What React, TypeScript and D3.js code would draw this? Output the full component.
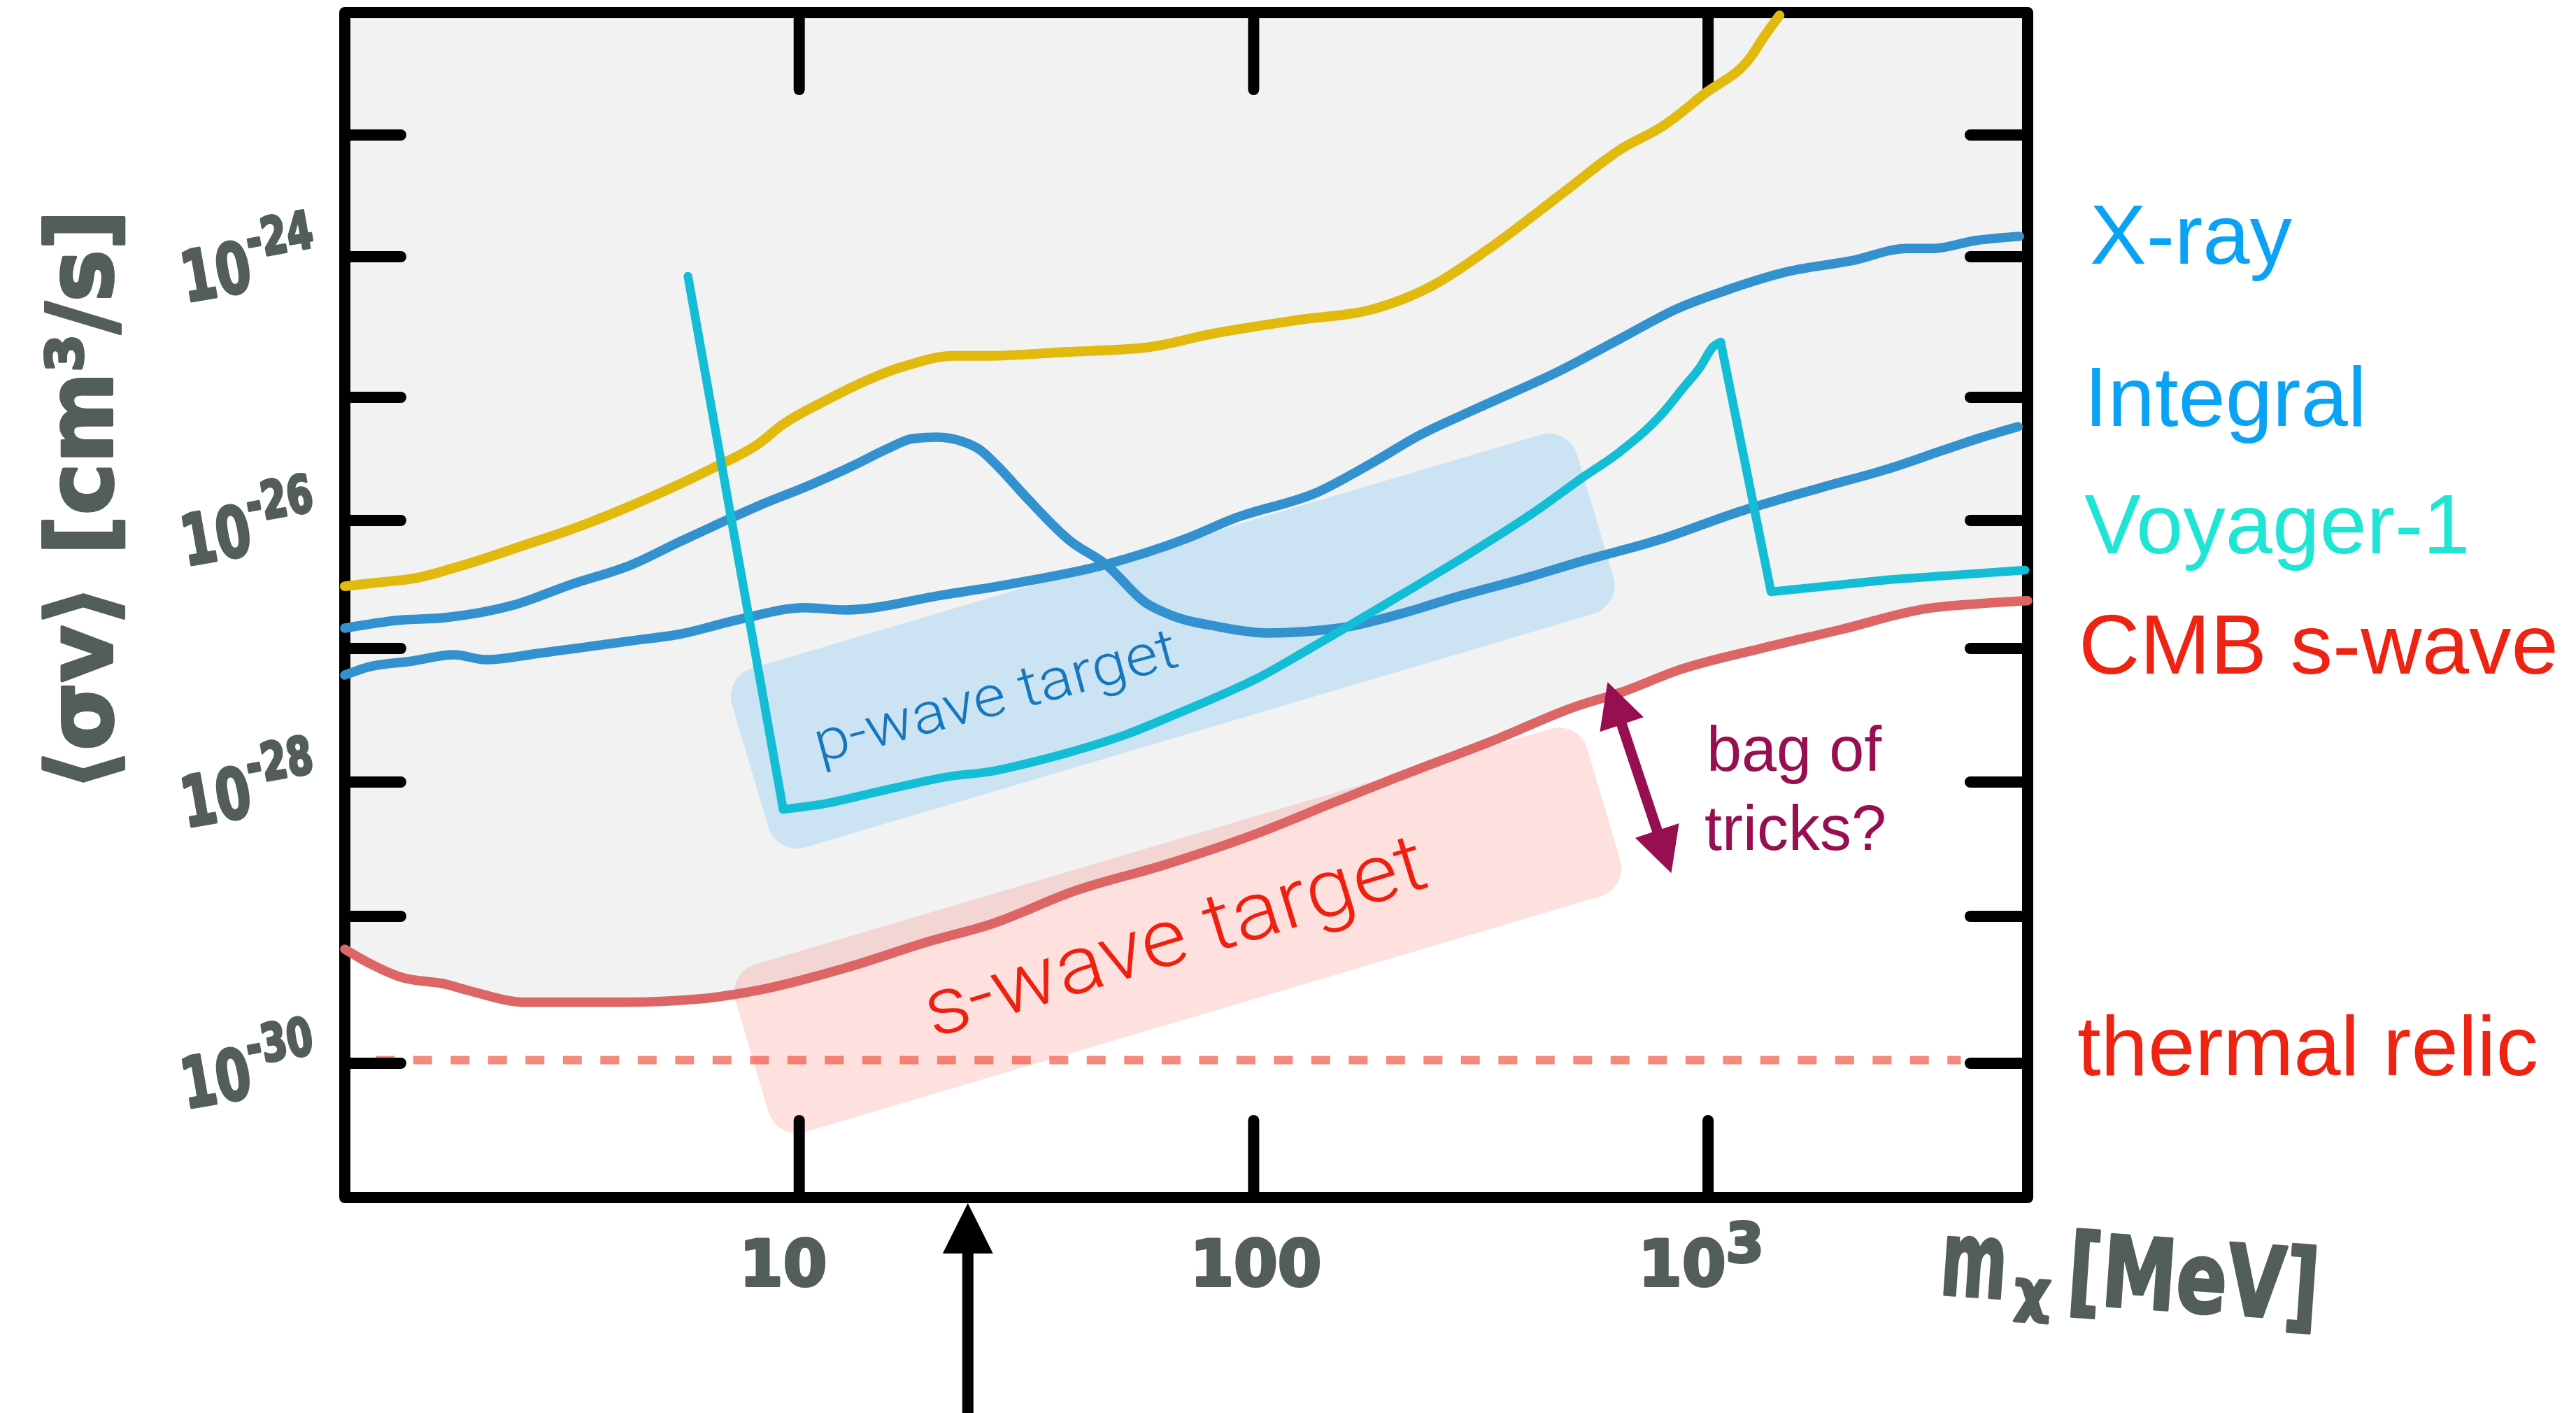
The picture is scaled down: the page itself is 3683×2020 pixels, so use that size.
import React from "react";
import * as d3 from "d3";

const WIDTH = 3683;
const HEIGHT = 2020;

// ---- axes: dark-matter mass m_chi (MeV) vs annihilation cross section <sigma v> (cm^3/s) ----
const massTicks = [10, 100, 1000];
const massTickText = ["10", "100", "10"];
const massTickSup = ["", "", "3"];
const sigmaTicks = [1e-23, 1e-24, 1e-25, 1e-26, 1e-27, 1e-28, 1e-29, 1e-30];
const sigmaLabelValues = [1e-24, 1e-26, 1e-28, 1e-30];
const sigmaLabelExps = ["-24", "-26", "-28", "-30"];

// ---- upper limits ----
const yellowMass = [1, 1.18, 1.42, 1.8, 2.47, 3.3, 4.29, 6.37, 8.2, 9.15, 11.4, 17.1, 21.8, 25.7, 38.6, 58, 81.5, 123, 188, 248, 327, 483, 640, 800, 982, 1246, 1323, 1436];
const yellowSigma = [3.06e-27, 3.27e-27, 3.52e-27, 4.41e-27, 6.36e-27, 9.04e-27, 1.33e-26, 2.6e-26, 4.28e-26, 5.93e-26, 9.37e-26, 1.67e-25, 1.97e-25, 1.97e-25, 2.1e-25, 2.26e-25, 2.84e-25, 3.52e-25, 4.34e-25, 6.25e-25, 1.14e-24, 3.42e-24, 7.57e-24, 1.2e-23, 2.18e-23, 4.46e-23, 6.29e-23, 9.6e-23];

const xrayMass = [1, 1.12, 1.41, 1.74, 2.04, 2.67, 4.29, 5.44, 7.45, 10.3, 12.6, 21, 28.5, 47.3, 71, 90.7, 139, 182, 232, 315, 473, 642, 865, 1096, 1503, 2061, 2747, 3121, 3888, 4843];
const xraySigma = [6.32e-28, 7.22e-28, 8.05e-28, 8.97e-28, 8.24e-28, 9.19e-28, 1.15e-27, 1.29e-27, 1.7e-27, 2.08e-27, 2.0e-27, 2.64e-27, 3.14e-27, 4.53e-27, 7.21e-27, 1.04e-26, 1.71e-26, 2.92e-26, 4.93e-26, 8.33e-26, 1.55e-25, 2.62e-25, 4.34e-25, 5.77e-25, 7.86e-25, 9.34e-25, 1.17e-24, 1.17e-24, 1.36e-24, 1.47e-24];

const integralMass = [1, 1.31, 1.66, 2.35, 3.13, 4.29, 5.44, 6.89, 8.08, 10.6, 13.1, 15.7, 17.8, 20.1, 22.8, 25.1, 27.3, 31.5, 39.4, 47.3, 58, 65.5, 83.6, 107, 154, 209, 284, 385, 523, 786, 1181, 1776, 2496, 3315, 4013, 4808];
const integralSigma = [1.44e-27, 1.66e-27, 1.74e-27, 2.18e-27, 3.14e-27, 4.53e-27, 6.78e-27, 1.0e-26, 1.3e-26, 1.95e-26, 2.77e-26, 3.85e-26, 4.62e-26, 4.74e-26, 4.39e-26, 3.7e-26, 2.77e-26, 1.56e-26, 6.95e-27, 4.53e-27, 2.26e-27, 1.83e-27, 1.48e-27, 1.32e-27, 1.44e-27, 1.85e-27, 2.57e-27, 3.44e-27, 4.76e-27, 7.12e-27, 1.19e-26, 1.85e-26, 2.63e-26, 3.75e-26, 4.74e-26, 5.77e-26];

const voyagerMass = [5.69, 9.22, 11.4, 13.95, 17.1, 21, 26.8, 31.5, 38.6, 52.4, 66.9, 87.2, 103, 123, 154, 209, 284, 427, 523, 642, 786, 886, 961, 1025, 1066, 1376, 2496, 4983];
const voyagerSigma = [7.26e-25, 6.26e-29, 6.9e-29, 8.05e-29, 9.42e-29, 1.09e-28, 1.21e-28, 1.37e-28, 1.64e-28, 2.27e-28, 3.18e-28, 4.67e-28, 6.09e-28, 8.55e-28, 1.35e-27, 2.57e-27, 4.94e-27, 1.26e-26, 2.16e-26, 3.65e-26, 7.11e-26, 1.19e-25, 1.64e-25, 2.28e-25, 2.47e-25, 2.77e-27, 3.44e-27, 4.09e-27];

const cmbMass = [1, 1.14, 1.33, 1.67, 1.87, 2.51, 4.12, 6.03, 8.08, 12.6, 19.5, 26.2, 40.7, 63.2, 98.4, 153, 209, 348, 506, 642, 871, 1309, 1968, 3033, 3957, 5050];
const cmbSigma = [5.97e-30, 4.74e-30, 3.85e-30, 3.45e-30, 3.13e-30, 2.6e-30, 2.6e-30, 2.74e-30, 3.13e-30, 4.44e-30, 6.81e-30, 8.77e-30, 1.56e-29, 2.4e-29, 3.97e-29, 7.23e-29, 1.1e-28, 2.14e-28, 3.63e-28, 4.68e-28, 6.97e-28, 1e-27, 1.41e-27, 2.05e-27, 2.24e-27, 2.36e-27];

const thermalRelicSigma = 1.05e-30;
const thermalRelicMass = [1.17, 3600];

// ---- annotations (data coordinates) ----
const pWaveCenter = [66.4, 1.135e-27];
const sWaveCenter = [68.1, 8.03e-30];
const bagArrowMass = [601, 830];
const bagArrowSigma = [5.6e-28, 2.1e-29];
const markerMass = 23.5;

const legendLabels = ["X-ray", "Integral", "Voyager-1", "CMB s-wave", "thermal relic"];
const legendColors = ["#0aa2f5", "#0aa2f5", "#1ee5d5", "#ee2312", "#ee2312"];

const INK = "#525d5c";
const HAND = "DejaVu Sans, Verdana, sans-serif";
const SANS = "Liberation Sans, Arial, Helvetica, sans-serif";

type P = [number, number];
const zipPts = (m: number[], s: number[]): P[] => m.map((v, i) => [v, s[i]] as P);

export default function App() {
  const x = d3.scaleLog().domain([1, 5050]).range([493, 2899]);
  const y = d3
    .scaleLog()
    .domain(sigmaTicks)
    .range([193, 367, 568, 744, 927, 1118, 1310, 1520]);

  const left = x(1);
  const right = x(5050);
  const top = 18;
  const bottom = 1712;

  const smooth = d3
    .line<P>()
    .x((d) => x(d[0]))
    .y((d) => y(d[1]))
    .curve(d3.curveMonotoneX);
  const straight = d3
    .line<P>()
    .x((d) => x(d[0]))
    .y((d) => y(d[1]));
  const excluded = d3
    .area<P>()
    .x((d) => x(d[0]))
    .y0(top)
    .y1((d) => y(d[1]))
    .curve(d3.curveMonotoneX);

  const cmb = zipPts(cmbMass, cmbSigma);
  const voyager = zipPts(voyagerMass, voyagerSigma);
  const peak = voyagerSigma.indexOf(Math.max(...voyagerSigma.slice(2)));

  // double-headed arrow for the "bag of tricks" gap
  const ax1 = x(bagArrowMass[0]);
  const ay1 = y(bagArrowSigma[0]);
  const ax2 = x(bagArrowMass[1]);
  const ay2 = y(bagArrowSigma[1]);
  const len = Math.hypot(ax2 - ax1, ay2 - ay1);
  const ux = (ax2 - ax1) / len;
  const uy = (ay2 - ay1) / len;
  const nx = -uy;
  const ny = ux;
  const headL = 64;
  const headW = 33;
  const head = (tx: number, ty: number, dir: number) => {
    const bx = tx + dir * ux * headL;
    const by = ty + dir * uy * headL;
    return `M${tx},${ty}L${bx + nx * headW},${by + ny * headW}L${bx - nx * headW},${by - ny * headW}Z`;
  };

  const pc = [x(pWaveCenter[0]), y(pWaveCenter[1])];
  const sc = [x(sWaveCenter[0]), y(sWaveCenter[1])];
  const mx = x(markerMass);

  const legendY = [377, 609, 791, 963, 1537];
  const legendX = [2988, 2980, 2980, 2972, 2970];

  return (
    <svg
      xmlns="http://www.w3.org/2000/svg"
      width={WIDTH}
      height={HEIGHT}
      viewBox={`0 0 ${WIDTH} ${HEIGHT}`}
      style={{ position: "absolute", left: 0, top: 0, display: "block", background: "#fff" }}
    >
      <rect x={0} y={0} width={WIDTH} height={HEIGHT} fill="#fff" />

      {/* region excluded by the CMB */}
      <path d={excluded(cmb) || ""} fill="#f2f2f2" />

      {/* target bands */}
      <g transform={`translate(${sc[0]},${sc[1]}) rotate(-16.5)`}>
        <rect x={-635} y={-125} width={1270} height={250} rx={42} fill="#f86a5a" fillOpacity={0.2} />
      </g>
      <g transform={`translate(${pc[0]},${pc[1]}) rotate(-16.5)`}>
        <rect x={-630} y={-134} width={1260} height={267} rx={42} fill="#cbe3f2" />
      </g>

      {/* thermal relic cross section */}
      <line
        x1={x(thermalRelicMass[0])}
        x2={x(thermalRelicMass[1])}
        y1={y(thermalRelicSigma)}
        y2={y(thermalRelicSigma)}
        stroke="#f04b36"
        strokeOpacity={0.65}
        strokeWidth={12}
        strokeDasharray="27 26.5"
      />

      {/* frame and ticks */}
      <rect
        x={left}
        y={top}
        width={right - left}
        height={bottom - top}
        fill="none"
        stroke="#000"
        strokeWidth={16}
        strokeLinejoin="round"
      />
      <g stroke="#000" strokeWidth={16} strokeLinecap="round">
        {sigmaTicks.map((v, i) => (
          <g key={`yt${i}`}>
            <line x1={left} x2={left + 80} y1={y(v)} y2={y(v)} />
            <line x1={right - 82} x2={right} y1={y(v)} y2={y(v)} />
          </g>
        ))}
        {massTicks.map((v, i) => (
          <g key={`xt${i}`}>
            <line x1={x(v)} x2={x(v)} y1={top} y2={top + 110} />
            <line x1={x(v)} x2={x(v)} y1={bottom - 110} y2={bottom} />
          </g>
        ))}
      </g>

      {/* limit curves */}
      <g fill="none" strokeLinecap="round" strokeLinejoin="round">
        <path d={smooth(zipPts(yellowMass, yellowSigma)) || ""} stroke="#e2b90d" strokeWidth={14} />
        <path d={smooth(zipPts(integralMass, integralSigma)) || ""} stroke="#3391d0" strokeWidth={13.5} />
        <path d={smooth(zipPts(xrayMass, xraySigma)) || ""} stroke="#3391d0" strokeWidth={13.5} />
        <path d={straight(voyager.slice(0, 2)) || ""} stroke="#14bdd6" strokeWidth={12.5} />
        <path d={smooth(voyager.slice(1, peak + 1)) || ""} stroke="#14bdd6" strokeWidth={12.5} />
        <path d={straight(voyager.slice(peak)) || ""} stroke="#14bdd6" strokeWidth={12.5} />
        <path d={smooth(cmb) || ""} stroke="#dd6565" strokeWidth={13.5} />
      </g>

      {/* band labels */}
      <text
        transform="translate(1172,1090) rotate(-15)"
        fontFamily="Roboto, Liberation Sans, sans-serif"
        fontWeight={300}
        fontSize={82}
        fill="#1677bd"
        textLength={535}
        lengthAdjust="spacingAndGlyphs"
      >
        p-wave target
      </text>
      <text
        transform="translate(1334,1484) rotate(-17)"
        fontFamily="Roboto, Liberation Sans, sans-serif"
        fontWeight={300}
        fontSize={116}
        fill="#ef2010"
        textLength={745}
        lengthAdjust="spacingAndGlyphs"
      >
        s-wave target
      </text>

      {/* bag of tricks */}
      <g fill="#970f50">
        <line
          x1={ax1 + ux * (headL - 4)}
          y1={ay1 + uy * (headL - 4)}
          x2={ax2 - ux * (headL - 4)}
          y2={ay2 - uy * (headL - 4)}
          stroke="#970f50"
          strokeWidth={15}
        />
        <path d={head(ax1, ay1, 1)} />
        <path d={head(ax2, ay2, -1)} />
        <text x={2440} y={1102} fontFamily={SANS} fontSize={90}>
          bag of
        </text>
        <text x={2437} y={1215} fontFamily={SANS} fontSize={90}>
          tricks?
        </text>
      </g>

      {/* mass marker arrow */}
      <g fill="#000">
        <line x1={mx} x2={mx} y1={1788} y2={HEIGHT} stroke="#000" strokeWidth={16} />
        <path d={`M${mx},1720L${mx + 36},1792L${mx - 36},1792Z`} />
      </g>

      {/* legend */}
      {legendLabels.map((t, i) => (
        <text key={t} x={legendX[i]} y={legendY[i]} fontFamily={SANS} fontSize={121} fill={legendColors[i]}>
          {t}
        </text>
      ))}

      {/* hand-lettered axis labels */}
      <g fill={INK} stroke={INK} strokeWidth={4} strokeLinejoin="round" fontFamily={HAND} fontWeight="bold">
        {massTicks.map((v, i) => (
          <text key={`xl${i}`} x={x(v) + [-23, 3, -10][i]} y={1838} textAnchor="middle" fontSize={90}>
            {massTickText[i]}
            {massTickSup[i] ? (
              <tspan fontSize={78} dy={-34}>
                {massTickSup[i]}
              </tspan>
            ) : null}
          </text>
        ))}
        {sigmaLabelValues.map((v, i) => (
          <g key={`yl${i}`} transform={`translate(362,${y(v) + 48}) rotate(-10) scale(0.72,1)`}>
            <text textAnchor="middle" fontSize={100}>
              10
              <tspan fontSize={74} dy={-46}>
                {sigmaLabelExps[i]}
              </tspan>
            </text>
          </g>
        ))}
        <text
          transform="translate(160,715) rotate(-90)"
          textAnchor="middle"
          fontSize={130}
          textLength={830}
          lengthAdjust="spacingAndGlyphs"
        >
          ⟨σv⟩ [cm³/s]
        </text>
        <g transform="translate(2772,1850) rotate(4)">
          <text x={0} y={0} fontSize={150} textLength={95} lengthAdjust="spacingAndGlyphs">
            m
          </text>
          <text x={108} y={14} fontSize={80}>
            χ
          </text>
          <text x={182} y={0} fontSize={140} textLength={360} lengthAdjust="spacingAndGlyphs">
            [MeV]
          </text>
        </g>
      </g>
    </svg>
  );
}
